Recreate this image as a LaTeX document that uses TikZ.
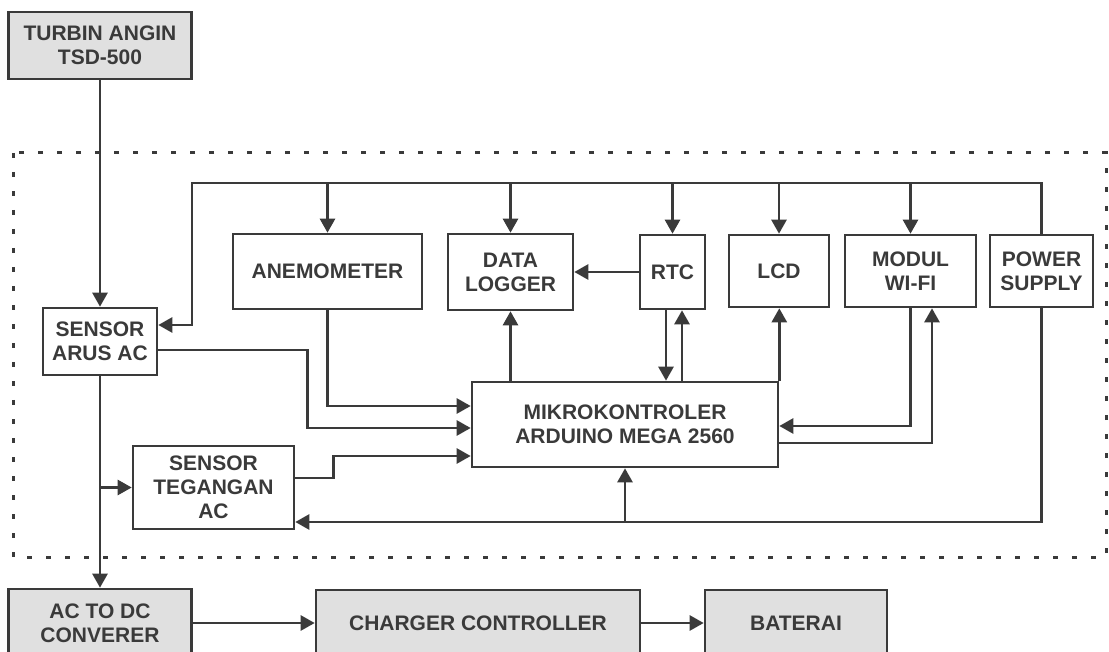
\documentclass[tikz,border=0pt]{standalone}
\usepackage{fontspec}
\setmainfont{Liberation Sans}
\usetikzlibrary{arrows.meta,calc}
\definecolor{ink}{HTML}{3A3A3A}
\definecolor{boxgray}{HTML}{E0E0E0}
\begin{document}
\begin{tikzpicture}[
          x=1pt, y=-1pt,
          every node/.style={rectangle, draw=ink, line width=2.6pt, text=ink, align=center, inner sep=0pt,
            font=\bfseries\fontsize{21}{24}\selectfont},
          gray box/.style={fill=boxgray},
          wire/.style={draw=ink, line width=2.6pt},
          frame/.style={draw=ink, line width=3pt, dash pattern=on 5pt off 14pt},
          >={Triangle[length=14pt, width=15pt]}
        ]
        \path[use as bounding box, clip] (0,0) rectangle (1109,652);
        % frame
        \draw[frame] (13,153) rectangle (1106,557);
        % blocks
        \node[gray box, minimum width=183pt, minimum height=67pt] (turbin) at (100,45.5) {TURBIN ANGIN\\TSD-500};
        \node[minimum width=114pt, minimum height=67pt] (arus) at (100,341.5) {SENSOR\\ARUS AC};
        \node[minimum width=189pt, minimum height=75pt] (anemo) at (327.5,271.5) {ANEMOMETER};
        \node[minimum width=125pt, minimum height=76pt] (logger) at (510.5,272) {DATA\\LOGGER};
        \node[minimum width=65pt, minimum height=74pt] (rtc) at (672.5,272) {RTC};
        \node[minimum width=100pt, minimum height=72pt] (lcd) at (779,271) {LCD};
        \node[minimum width=131pt, minimum height=72pt] (wifi) at (910.5,271) {MODUL\\WI-FI};
        \node[minimum width=103pt, minimum height=72pt] (psu) at (1041.5,271) {POWER\\SUPPLY};
        \node[minimum width=306pt, minimum height=85pt] (mcu) at (625,424.5) {MIKROKONTROLER\\ARDUINO MEGA 2560};
        \node[minimum width=161pt, minimum height=83pt] (tegangan) at (213.5,487.5) {SENSOR\\TEGANGAN\\AC};
        \node[gray box, minimum width=183pt, minimum height=68pt] (acdc) at (100,623) {AC TO DC\\CONVERER};
        \node[gray box, minimum width=324pt, minimum height=66pt] (charger) at (478,623) {CHARGER CONTROLLER};
        \node[gray box, minimum width=182pt, minimum height=66pt] (baterai) at (796,623) {BATERAI};
        % power bus
        \coordinate (busL) at (192,183);
        \coordinate (busB) at (1041,522);
        \draw[wire, ->] (psu.north) |- (busL) |- ([yshift=16.5pt]arus.east);
        \foreach \blk in {anemo, logger, rtc, lcd, wifi}
          \draw[wire, ->] (busL -| \blk.north) -- (\blk.north);
        \draw[wire, ->] (psu.south) |- ([yshift=-34.5pt]tegangan.east);
        \draw[wire, ->] (mcu.south |- busB) -- (mcu.south);
        % signals
        \draw[wire, ->] (turbin.south) -- (arus.north);
        \draw[wire, ->] (arus.south) -- (acdc.north);
        \draw[wire, ->] (arus.south |- tegangan.west) -- (tegangan.west);
        \draw[wire, ->] ([yshift=-8.5pt]arus.east) -- ++(149,0) |- ([yshift=-3.5pt]mcu.west);
        \draw[wire, ->] (anemo.south) |- ([yshift=18.5pt]mcu.west);
        \draw[wire, ->] ([yshift=9.5pt]tegangan.east) -- ++(38,0) |- ([yshift=-31.5pt]mcu.west);
        \draw[wire, ->] (rtc.west) -- (logger.east);
        \draw[wire, ->] (logger.south |- mcu.north) -- (logger.south);
        \draw[wire, ->] ([xshift=-6.5pt]rtc.south) -- ([xshift=-6.5pt]rtc.south |- mcu.north);
        \draw[wire, ->] ([xshift=9.5pt]rtc.south |- mcu.north) -- ([xshift=9.5pt]rtc.south);
        \draw[wire, ->] (mcu.north east) -- (mcu.north east |- lcd.south);
        \draw[wire, ->] (wifi.south) |- ([yshift=-1.5pt]mcu.east);
        \draw[wire, ->] ([yshift=-18.5pt]mcu.east) -| ([xshift=21.5pt]wifi.south);
        % output chain
        \draw[wire, ->] (acdc.east) -- (charger.west);
        \draw[wire, ->] (charger.east) -- (baterai.west);
\end{tikzpicture}
\end{document}
